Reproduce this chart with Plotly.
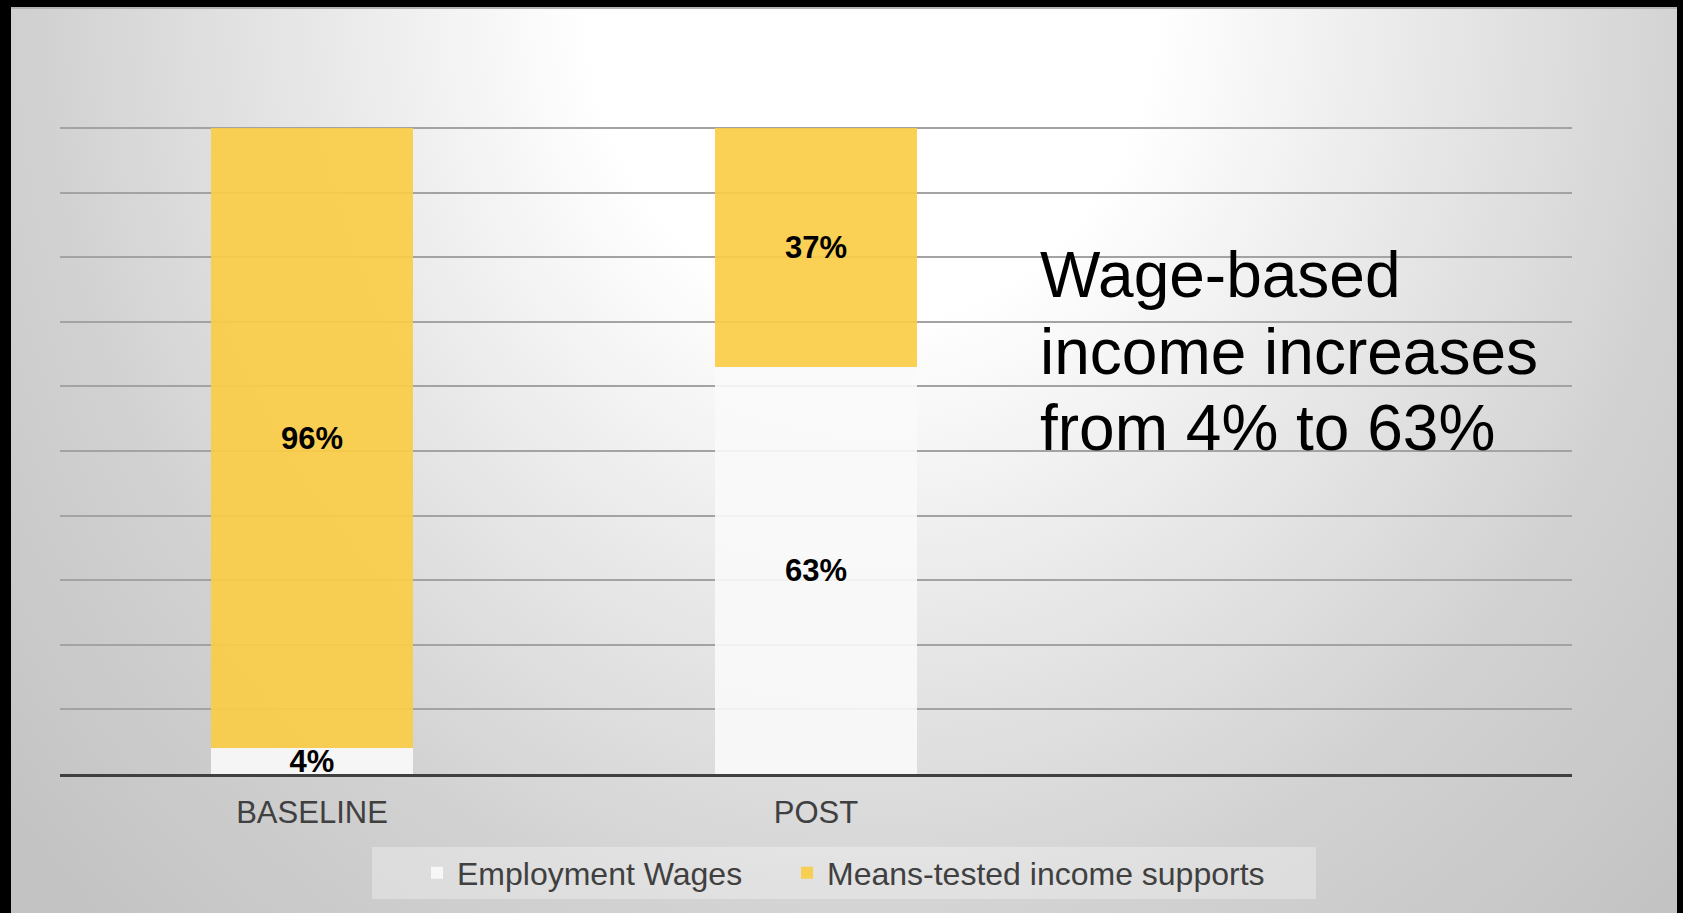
import base64
import plotly.graph_objects as go

# ---- data ----
categories = ["BASELINE", "POST"]
employment_wages = [4, 63]
means_tested = [96, 37]
series_names = ["Employment Wages", "Means-tested income supports"]
note_lines = ["Wage-based", "income increases", "from 4% to 63%"]

W, H = 1683, 913
GX0, GY0, GX1, GY1 = 11, 7, 1677, 913  # gray panel

svg = f'''<svg xmlns="http://www.w3.org/2000/svg" width="{GX1-GX0}" height="{GY1-GY0}" viewBox="0 0 {GX1-GX0} {GY1-GY0}" preserveAspectRatio="none">
<defs><radialGradient id="g" gradientUnits="userSpaceOnUse" cx="0" cy="0" r="1" gradientTransform="translate(860,-7) scale(1130,1280)">
<stop offset="0" stop-color="#ffffff"/>
<stop offset="0.25" stop-color="#ffffff"/>
<stop offset="0.47" stop-color="#eaeaea"/>
<stop offset="0.74" stop-color="#d1d1d1"/>
<stop offset="1" stop-color="#c3c3c3"/>
</radialGradient></defs>
<rect x="0" y="0" width="{GX1-GX0}" height="{GY1-GY0}" fill="url(#g)"/>
<rect x="0" y="0" width="{GX1-GX0}" height="2" fill="#b4b4b4"/>
</svg>'''
src = "data:image/svg+xml;base64," + base64.b64encode(svg.encode()).decode()

xpos = list(range(len(categories)))
FONT = "Liberation Sans, Arial, sans-serif"
label_font = dict(family=FONT, size=31, color="#000000", weight="bold")

fig = go.Figure()
fig.add_trace(go.Bar(
    x=xpos, y=employment_wages, name=series_names[0], width=0.4, legend="legend",
    marker=dict(color="rgba(250,250,250,0.9)", line=dict(width=0)),
    texttemplate="%{y}%", textposition="inside", insidetextanchor="middle",
    textfont=label_font, hoverinfo="skip",
))
fig.add_trace(go.Bar(
    x=xpos, y=means_tested, name=series_names[1], width=0.4, legend="legend2",
    marker=dict(color="rgba(250,204,70,0.92)", line=dict(width=0)),
    texttemplate="%{y}%", textposition="inside", insidetextanchor="middle",
    textfont=label_font, hoverinfo="skip",
))

baselines = [297, 374, 450]
annotations = []
for line, b in zip(note_lines, baselines):
    annotations.append(dict(
        text=line, xref="paper", yref="paper", x=1038 / W, y=1 - (b - 22) / H,
        xanchor="left", yanchor="middle", showarrow=False,
        font=dict(family=FONT, size=64, color="#000000"),
    ))

legend_common = dict(orientation="h", yanchor="middle", y=1 - 873 / H, xanchor="left",
                     bgcolor="rgba(0,0,0,0)",
                     font=dict(family=FONT, size=32, color="#404040"))

fig.update_layout(
    width=W, height=H, margin=dict(l=0, r=0, t=0, b=0),
    paper_bgcolor="#000000", plot_bgcolor="rgba(0,0,0,0)",
    barmode="stack", bargap=0,
    uniformtext=dict(minsize=31, mode="show"),
    images=[dict(source=src, xref="paper", yref="paper",
                 x=GX0 / W, y=1 - GY0 / H, sizex=(GX1 - GX0) / W, sizey=(GY1 - GY0) / H,
                 xanchor="left", yanchor="top", sizing="stretch", layer="below")],
    shapes=[dict(type="rect", xref="paper", yref="paper", layer="below",
                 x0=372 / W, x1=1316 / W, y0=1 - 899 / H, y1=1 - 847 / H,
                 fillcolor="rgba(255,255,255,0.3)", line=dict(width=0))],
    xaxis=dict(domain=[60 / W, 1572 / W], range=[-0.5, 2.5],
               tickmode="array", tickvals=xpos, ticktext=categories,
               tickfont=dict(family=FONT, size=31, color="#404040"),
               showgrid=False, zeroline=False, showline=True, linecolor="#404040", linewidth=3,
               ticks="", ticklabelstandoff=9, fixedrange=True),
    yaxis=dict(domain=[(H - 774) / H, (H - 126) / H], range=[0, 100.3], dtick=10,
               showticklabels=False, showgrid=True, gridcolor="#a3a3a3", gridwidth=1.5,
               zeroline=False, ticks="", fixedrange=True),
    legend=dict(x=(435 - 18) / W, **legend_common),
    legend2=dict(x=(805 - 18) / W, **legend_common),
    annotations=annotations,
    showlegend=True,
)

fig.write_html("out.html")
